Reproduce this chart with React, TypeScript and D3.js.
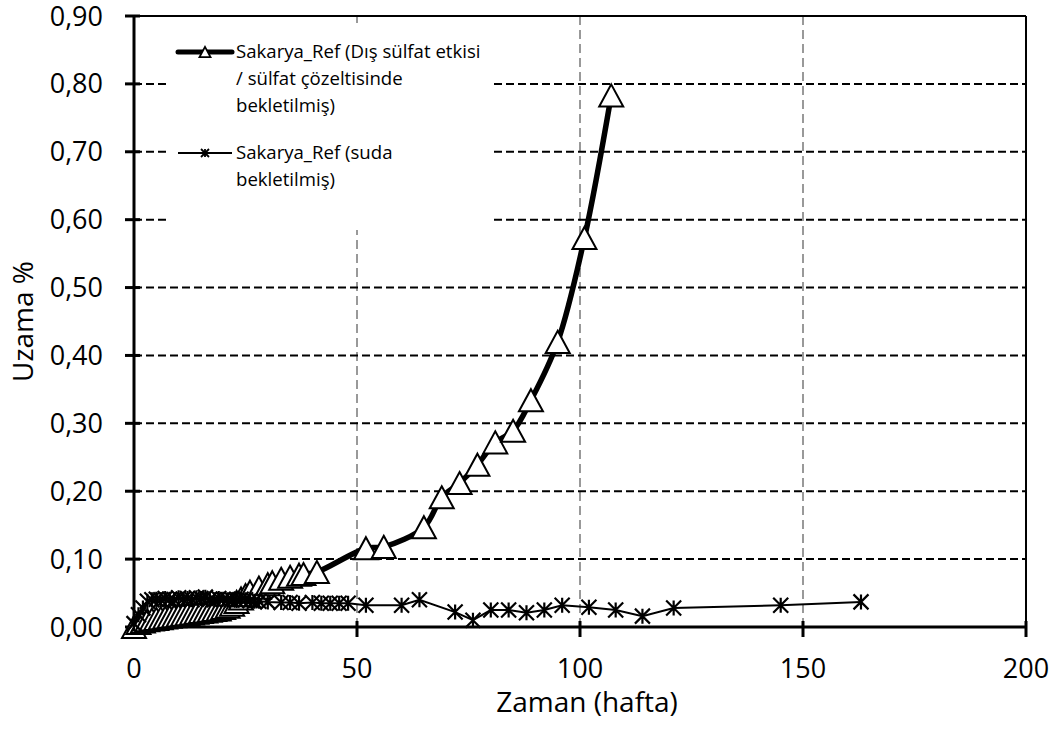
import React from "react";
import * as d3 from "d3";

const xTicks = [0, 50, 100, 150, 200];
const yTicks = [0, 0.1, 0.2, 0.3, 0.4, 0.5, 0.6, 0.7, 0.8, 0.9];
const yTickLabels = ["0,00", "0,10", "0,20", "0,30", "0,40", "0,50", "0,60", "0,70", "0,80", "0,90"];
const xGridValues = [50, 100, 150];
const yGridValues = [0.1, 0.2, 0.3, 0.4, 0.5, 0.6, 0.7, 0.8];

// Series 1: sülfat çözeltisinde bekletilmiş (triangles)
const sulfatWeeks = [0, 1, 2, 3, 4, 5, 6, 7, 8, 9, 10, 11, 12, 13, 14, 15, 16, 17, 18, 19, 20, 21, 22, 23, 24, 25, 26, 28, 30, 31, 33, 35, 37, 38, 41, 52, 56, 65, 69, 73, 77, 81, 85, 89, 95, 101, 107];
const sulfatValues = [0.0, 0.006, 0.008, 0.01, 0.011, 0.012, 0.013, 0.014, 0.015, 0.016, 0.017, 0.018, 0.019, 0.02, 0.021, 0.022, 0.023, 0.024, 0.025, 0.026, 0.028, 0.03, 0.033, 0.037, 0.042, 0.047, 0.052, 0.058, 0.063, 0.066, 0.071, 0.074, 0.077, 0.078, 0.081, 0.116, 0.118, 0.147, 0.191, 0.212, 0.239, 0.272, 0.289, 0.334, 0.42, 0.573, 0.783];

// Series 2: suda bekletilmiş (asterisks)
const suWeeks = [0, 1, 2, 3, 4, 5, 6, 7, 8, 9, 10, 11, 12, 13, 14, 15, 16, 17, 18, 19, 20, 21, 22, 23, 24, 25, 26, 27, 28, 30, 33, 35, 37, 40, 42, 44, 46, 48, 52, 60, 64, 72, 76, 80, 84, 88, 92, 96, 102, 108, 114, 121, 145, 163];
const suValues = [0.005, 0.018, 0.028, 0.038, 0.04, 0.041, 0.04, 0.042, 0.041, 0.04, 0.043, 0.041, 0.042, 0.04, 0.043, 0.042, 0.044, 0.041, 0.04, 0.042, 0.041, 0.04, 0.04, 0.039, 0.041, 0.04, 0.039, 0.038, 0.038, 0.037, 0.036, 0.036, 0.035, 0.036, 0.035, 0.035, 0.035, 0.035, 0.032, 0.032, 0.04, 0.022, 0.01, 0.025, 0.025, 0.021, 0.025, 0.032, 0.029, 0.025, 0.016, 0.028, 0.032, 0.037];

const legend1Lines = ["Sakarya_Ref (Dış sülfat etkisi", "/ sülfat çözeltisinde", "bekletilmiş)"];
const legend2Lines = ["Sakarya_Ref (suda", "bekletilmiş)"];
const xTitle = "Zaman (hafta)";
const yTitle = "Uzama %";

const W = 1055;
const H = 729;
const L = 134, R = 1026, T = 16, B = 627;
const FONT = "'Open Sans', 'Noto Sans', sans-serif";

function triPath(s: number) {
  const w = s, h = s * 0.92;
  return `M0,${-h / 2}L${w / 2},${h / 2}L${-w / 2},${h / 2}Z`;
}
function starPath(s: number) {
  const r = s / 2;
  return `M${-r},${-r}L${r},${r}M${-r},${r}L${r},${-r}M0,${-r}L0,${r}`;
}

export default function App() {
  const x = d3.scaleLinear().domain([0, 200]).range([L, R]);
  const y = d3.scaleLinear().domain([0, 0.9]).range([B, T]);

  const sulfat = sulfatWeeks.map((w, i) => [w, sulfatValues[i]] as [number, number]);
  const su = suWeeks.map((w, i) => [w, suValues[i]] as [number, number]);

  const lineSmooth = d3
    .line<[number, number]>()
    .x((d) => x(d[0]))
    .y((d) => y(d[1]))
    .curve(d3.curveCatmullRom.alpha(0.5));
  const lineStraight = d3
    .line<[number, number]>()
    .x((d) => x(d[0]))
    .y((d) => y(d[1]));

  const legX = 168, legY = 23, legW = 324, legH = 207;

  return (
    <div style={{ position: "absolute", left: 0, top: 0 }}>
      <svg width={W} height={H} style={{ display: "block", background: "#fff" }}>
        <rect x={0} y={0} width={W} height={H} fill="#fff" />
        {/* vertical grid */}
        {xGridValues.map((v) => (
          <line key={"vx" + v} x1={x(v)} x2={x(v)} y1={T} y2={B} stroke="#999" strokeWidth={2} strokeDasharray="9,5" />
        ))}
        {/* horizontal grid */}
        {yGridValues.map((v) => (
          <line key={"hy" + v} x1={L} x2={R} y1={y(v)} y2={y(v)} stroke="#000" strokeWidth={2} strokeDasharray="8,4" />
        ))}
        {/* plot border */}
        <line x1={L} x2={R} y1={T} y2={T} stroke="#000" strokeWidth={2} />
        <line x1={R} x2={R} y1={T} y2={B} stroke="#000" strokeWidth={2} />
        {/* axes */}
        <line x1={L} x2={L} y1={T} y2={B + 1.5} stroke="#000" strokeWidth={3} />
        <line x1={L - 1.5} x2={R} y1={B} y2={B} stroke="#000" strokeWidth={3} />
        {yTicks.map((v) => (
          <line key={"yt" + v} x1={L - 9} x2={L + 6} y1={y(v)} y2={y(v)} stroke="#000" strokeWidth={3} />
        ))}
        {xTicks.map((v) => (
          <line key={"xt" + v} x1={x(v)} x2={x(v)} y1={B - 6} y2={B + 10} stroke="#000" strokeWidth={3} />
        ))}
        {/* tick labels */}
        {yTicks.map((v, i) => (
          <text key={"yl" + v} x={L - 31} y={y(v) + 9.5} textAnchor="end" fontFamily={FONT} fontSize={27} fill="#000">
            {yTickLabels[i]}
          </text>
        ))}
        {xTicks.map((v) => (
          <text key={"xl" + v} x={x(v)} y={678} textAnchor="middle" fontFamily={FONT} fontSize={27} fill="#000">
            {String(v)}
          </text>
        ))}
        <text x={(L + R) / 2 + 7} y={712} textAnchor="middle" fontFamily={FONT} fontSize={28} fill="#000">
          {xTitle}
        </text>
        <text
          transform={`translate(33, ${(T + B) / 2}) rotate(-90)`}
          textAnchor="middle"
          fontFamily={FONT}
          fontSize={28}
          fill="#000"
        >
          {yTitle}
        </text>

        {/* series 1 */}
        <path d={lineSmooth(sulfat) || ""} fill="none" stroke="#000" strokeWidth={5.5} strokeLinejoin="round" strokeLinecap="round" />
        {sulfat.map((d, i) => (
          <path key={"s" + i} d={triPath(24)} transform={`translate(${x(d[0])},${y(d[1])})`} fill="#fff" stroke="#000" strokeWidth={2} strokeLinejoin="miter" />
        ))}
        {/* series 2 */}
        <path d={lineStraight(su) || ""} fill="none" stroke="#000" strokeWidth={2} />
        {su.map((d, i) => (
          <path key={"w" + i} d={starPath(15)} transform={`translate(${x(d[0])},${y(d[1])})`} fill="none" stroke="#000" strokeWidth={2.2} />
        ))}

        {/* legend */}
        <rect x={legX} y={legY} width={legW} height={legH} fill="#fff" />
        <line x1={178} x2={232} y1={52} y2={52} stroke="#000" strokeWidth={5} strokeLinecap="round" />
        <path d={triPath(11)} transform="translate(205,52)" fill="#fff" stroke="#000" strokeWidth={1.8} />
        {legend1Lines.map((t, i) => (
          <text key={"l1" + i} x={236} y={58 + i * 27} fontFamily={FONT} fontSize={18.6} fill="#000">
            {t}
          </text>
        ))}
        <line x1={178} x2={232} y1={153} y2={153} stroke="#000" strokeWidth={2} />
        <path d={starPath(8)} transform="translate(205,153)" fill="none" stroke="#000" strokeWidth={1.8} />
        {legend2Lines.map((t, i) => (
          <text key={"l2" + i} x={236} y={159 + i * 27} fontFamily={FONT} fontSize={18.6} fill="#000">
            {t}
          </text>
        ))}
      </svg>
    </div>
  );
}
